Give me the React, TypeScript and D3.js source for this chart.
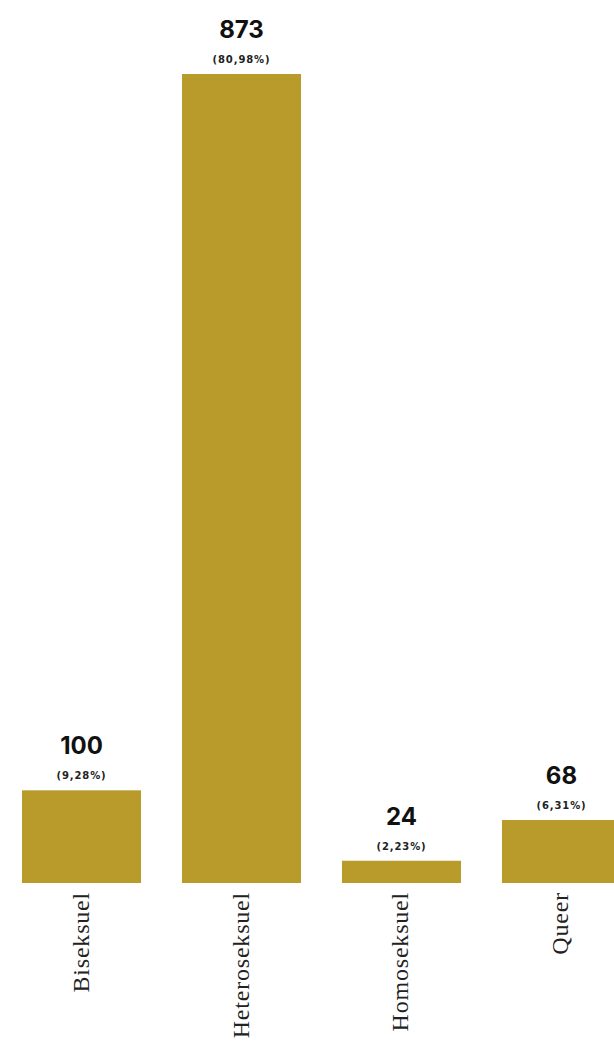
import React from "react";
import * as d3 from "d3";

const categories = ["Biseksuel", "Heteroseksuel", "Homoseksuel", "Queer"];
const counts = [100, 873, 24, 68];
const percents = ["(9,28%)", "(80,98%)", "(2,23%)", "(6,31%)"];

const W = 614;
const H = 1042;
const BAR = "#b89b2b";

export default function App() {
  const x = d3.scaleBand<string>().domain(categories).range([22, 621]).paddingInner(0.256).paddingOuter(0);
  const y = d3.scaleLinear().domain([0, 873]).range([883, 74]);
  return (
    <svg width={W} height={H} style={{ position: "absolute", left: 0, top: 0, background: "#fff" }}>
      {categories.map((c, i) => {
        const bx = x(c)!;
        const bw = x.bandwidth();
        const top = y(counts[i]);
        const cx = bx + bw / 2;
        return (
          <g key={c}>
            <rect x={bx} y={top} width={bw} height={y(0) - top} fill={BAR} />
            <text x={cx} y={top - 36} textAnchor="middle" fontFamily="Inter, 'DejaVu Sans', sans-serif" fontWeight={700} fontSize={24} fill="#111">
              {counts[i]}
            </text>
            <text x={cx} y={top - 11} textAnchor="middle" fontFamily="'DejaVu Sans', sans-serif" fontWeight={600} fontSize={10} letterSpacing={0.9} fill="#222">
              {percents[i]}
            </text>
            <text
              transform={`translate(${cx + 7},${892}) rotate(-90)`}
              textAnchor="end"
              fontFamily="'Liberation Serif', 'DejaVu Serif', serif"
              fontSize={24}
              letterSpacing={0.8}
              fill="#222"
            >
              {c}
            </text>
          </g>
        );
      })}
    </svg>
  );
}
